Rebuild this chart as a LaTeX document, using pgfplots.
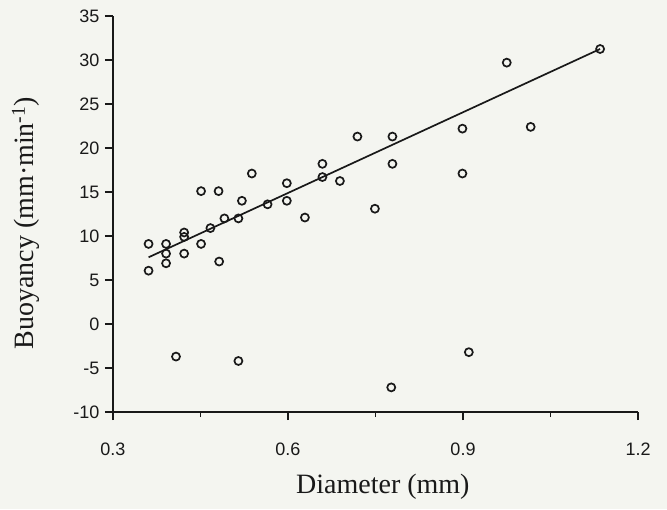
\documentclass[border=0pt]{standalone}
\usepackage{pgfplots}
\pgfplotsset{compat=1.18}
\usepackage{fontspec}
\setmainfont{Liberation Serif}
\newfontfamily\tickfont{Liberation Sans}
\usetikzlibrary{backgrounds}
\definecolor{bg}{RGB}{244,245,240}
\definecolor{ink}{RGB}{25,25,25}
\begin{document}
\begin{tikzpicture}
\begin{axis}[
 scale only axis, width=525pt, height=396pt,
 xmin=0.3, xmax=1.2, ymin=-10, ymax=35,
 axis x line*=bottom, axis y line*=left,
 axis line style={line width=1.6pt, draw=ink},
 xtick={0.3,0.6,0.9,1.2}, xticklabels={0.3,0.6,0.9,1.2},
 minor xtick={0.45,0.75,1.05},
 ytick={-10,-5,0,5,10,15,20,25,30,35},
 yticklabels={-10,-5,0,5,10,15,20,25,30,35},
 tick align=outside,
 major tick length=8pt, minor tick length=5pt,
 every tick/.style={line width=1.5pt, draw=ink},
 ticklabel style={font=\tickfont\fontsize{18}{18}\selectfont, text=ink},
 xticklabel style={yshift=-19pt},
 yticklabel style={xshift=-2pt},
 xlabel={Diameter (mm)},
 ylabel={Buoyancy (mm·min\textsuperscript{-1})},
 label style={font=\fontsize{28}{28}\selectfont, text=ink},
 xlabel style={at={(axis description cs:0.514,-0.2045)}, anchor=base},
 ylabel style={at={(axis description cs:-0.166,0.477)}, anchor=center},
 clip=false,
]
\coordinate (bl) at (rel axis cs:-0.2152,-0.2449);
\coordinate (tr) at (rel axis cs:1.0552,1.0404);
\addplot[only marks, mark=o, mark size=4pt, mark options={line width=1.7pt, draw=ink}] coordinates {
(0.719,21.3) (0.779,21.3) (0.779,18.2) (0.659,18.2) (0.659,16.7)
(0.689,16.25) (0.538,17.1) (0.598,16.0) (0.598,14.0) (0.565,13.6)
(0.521,14.0) (0.451,15.1) (0.481,15.1) (0.749,13.1) (0.629,12.1)
(1.135,31.25) (0.975,29.7) (0.899,22.2) (1.016,22.4) (0.899,17.1)
(0.361,9.1) (0.391,9.1) (0.391,8.0) (0.391,6.9) (0.361,6.06)
(0.422,10.4) (0.422,9.9) (0.422,8.0) (0.451,9.1) (0.467,10.9)
(0.482,7.1) (0.491,12.0) (0.515,12.0) (0.408,-3.7) (0.515,-4.2)
(0.777,-7.2) (0.910,-3.2)
};
\addplot[no marks, line width=1.7pt, draw=ink] coordinates {(0.361,7.58) (1.135,31.25)};
\end{axis}
\pgfresetboundingbox
\begin{scope}[on background layer]
\fill[bg] (bl) rectangle (tr);
\end{scope}
\end{tikzpicture}
\end{document}
